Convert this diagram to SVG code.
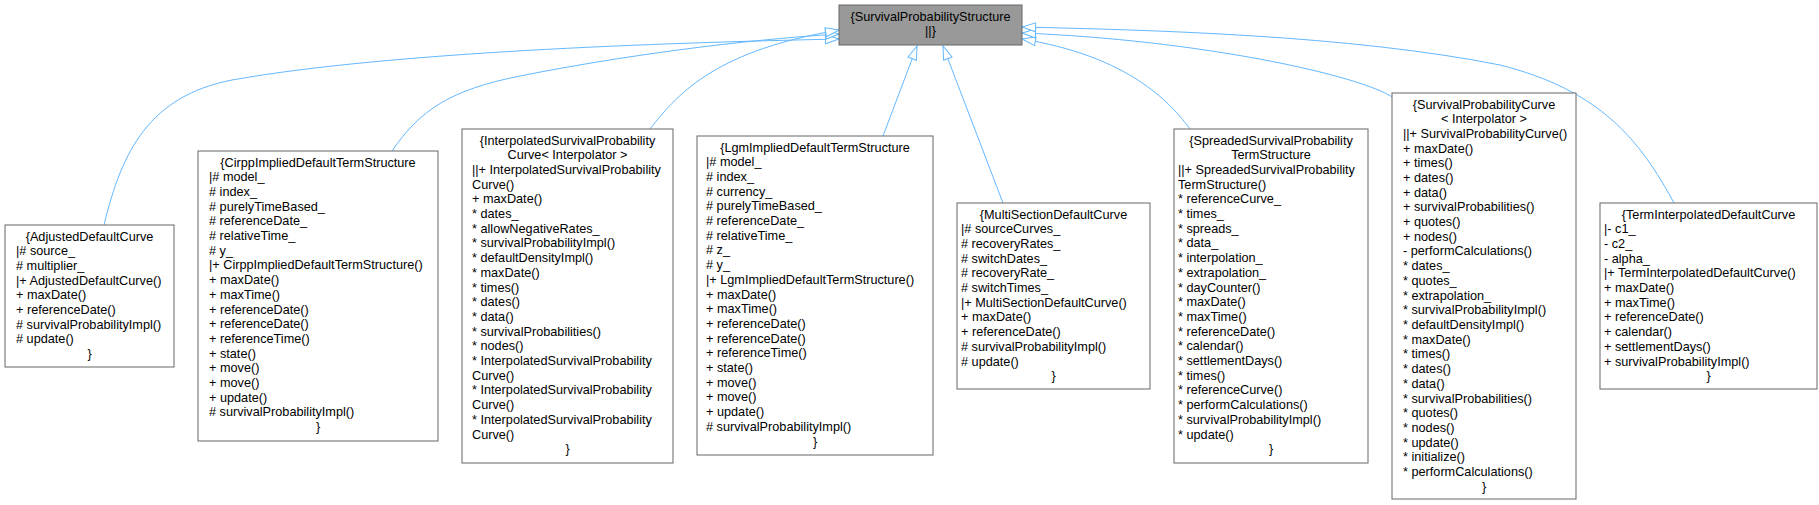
<svg xmlns="http://www.w3.org/2000/svg" width="1819" height="505" viewBox="0 0 1819 505">
<style>
text{font-family:"Liberation Sans",Arial,sans-serif;font-size:12.7px;fill:#000}
.c{text-anchor:middle}
.box{fill:#fff;stroke:#666;stroke-width:1}
.root{fill:#999;stroke:#666;stroke-width:1}
.e{fill:none;stroke:#63b8ff;stroke-width:1}
</style>
<defs>
<marker id="inh" viewBox="0 0 14 10" refX="14" refY="5" markerWidth="14" markerHeight="10" markerUnits="userSpaceOnUse" orient="auto" overflow="visible">
<path d="M0.5,0.5 L14,5 L0.5,9.5 Z" fill="#fff" stroke="#63b8ff" stroke-width="1"/>
</marker>
</defs>
<rect width="1819" height="505" fill="#fff"/>
<g id="connectors">
<path class="e" marker-end="url(#inh)" d="M104,225 C122,150 150,96 232,80 C400,50 700,42 839,39"/>
<path class="e" marker-end="url(#inh)" d="M392,151 C420,110 450,90 520,76 C620,56 740,40 839,34"/>
<path class="e" marker-end="url(#inh)" d="M650,129 C680,90 720,50 839,30"/>
<path class="e" marker-end="url(#inh)" d="M883,136 L917,46"/>
<path class="e" marker-end="url(#inh)" d="M1003,203 L943,46"/>
<path class="e" marker-end="url(#inh)" d="M1190,129 C1165,95 1120,55 1022,39"/>
<path class="e" marker-end="url(#inh)" d="M1394,98 C1360,75 1200,40 1022,33"/>
<path class="e" marker-end="url(#inh)" d="M1674,203 C1640,140 1600,90 1500,65 C1350,35 1150,30 1022,27"/>
</g>
<g id="SurvivalProbabilityStructure">
<rect class="root" x="839" y="5" width="183" height="40"/>
<text class="c" x="930.5" y="20.5">{SurvivalProbabilityStructure</text>
<text class="c" x="930.5" y="35.2">||}</text>
</g>
<g id="AdjustedDefaultCurve">
<rect class="box" x="5" y="225" width="169" height="142"/>
<text class="c" x="89.5" y="240.5">{AdjustedDefaultCurve</text>
<text x="16" y="240.5"><tspan x="16" dy="14.7">|# source_</tspan><tspan x="16" dy="14.7"># multiplier_</tspan><tspan x="16" dy="14.7">|+ AdjustedDefaultCurve()</tspan><tspan x="16" dy="14.7">+ maxDate()</tspan><tspan x="16" dy="14.7">+ referenceDate()</tspan><tspan x="16" dy="14.7"># survivalProbabilityImpl()</tspan><tspan x="16" dy="14.7"># update()</tspan></text>
<text class="c" x="89.5" y="358.1">}</text>
</g>
<g id="CirppImpliedDefaultTermStructure">
<rect class="box" x="198" y="151" width="240" height="290"/>
<text class="c" x="318" y="166.5">{CirppImpliedDefaultTermStructure</text>
<text x="209" y="166.5"><tspan x="209" dy="14.7">|# model_</tspan><tspan x="209" dy="14.7"># index_</tspan><tspan x="209" dy="14.7"># purelyTimeBased_</tspan><tspan x="209" dy="14.7"># referenceDate_</tspan><tspan x="209" dy="14.7"># relativeTime_</tspan><tspan x="209" dy="14.7"># y_</tspan><tspan x="209" dy="14.7">|+ CirppImpliedDefaultTermStructure()</tspan><tspan x="209" dy="14.7">+ maxDate()</tspan><tspan x="209" dy="14.7">+ maxTime()</tspan><tspan x="209" dy="14.7">+ referenceDate()</tspan><tspan x="209" dy="14.7">+ referenceDate()</tspan><tspan x="209" dy="14.7">+ referenceTime()</tspan><tspan x="209" dy="14.7">+ state()</tspan><tspan x="209" dy="14.7">+ move()</tspan><tspan x="209" dy="14.7">+ move()</tspan><tspan x="209" dy="14.7">+ update()</tspan><tspan x="209" dy="14.7"># survivalProbabilityImpl()</tspan></text>
<text class="c" x="318" y="431.1">}</text>
</g>
<g id="InterpolatedSurvivalProbabilityCurve">
<rect class="box" x="462" y="129" width="211" height="334"/>
<text class="c" x="567.5" y="144.5">{InterpolatedSurvivalProbability</text>
<text class="c" x="567.5" y="159.2">Curve&lt; Interpolator &gt;</text>
<text x="472" y="159.2"><tspan x="472" dy="14.7">||+ InterpolatedSurvivalProbability</tspan><tspan x="472" dy="14.7">Curve()</tspan><tspan x="472" dy="14.7">+ maxDate()</tspan><tspan x="472" dy="14.7">* dates_</tspan><tspan x="472" dy="14.7">* allowNegativeRates_</tspan><tspan x="472" dy="14.7">* survivalProbabilityImpl()</tspan><tspan x="472" dy="14.7">* defaultDensityImpl()</tspan><tspan x="472" dy="14.7">* maxDate()</tspan><tspan x="472" dy="14.7">* times()</tspan><tspan x="472" dy="14.7">* dates()</tspan><tspan x="472" dy="14.7">* data()</tspan><tspan x="472" dy="14.7">* survivalProbabilities()</tspan><tspan x="472" dy="14.7">* nodes()</tspan><tspan x="472" dy="14.7">* InterpolatedSurvivalProbability</tspan><tspan x="472" dy="14.7">Curve()</tspan><tspan x="472" dy="14.7">* InterpolatedSurvivalProbability</tspan><tspan x="472" dy="14.7">Curve()</tspan><tspan x="472" dy="14.7">* InterpolatedSurvivalProbability</tspan><tspan x="472" dy="14.7">Curve()</tspan></text>
<text class="c" x="567.5" y="453.2">}</text>
</g>
<g id="LgmImpliedDefaultTermStructure">
<rect class="box" x="697" y="136" width="236" height="319"/>
<text class="c" x="815" y="151.5">{LgmImpliedDefaultTermStructure</text>
<text x="706" y="151.5"><tspan x="706" dy="14.7">|# model_</tspan><tspan x="706" dy="14.7"># index_</tspan><tspan x="706" dy="14.7"># currency_</tspan><tspan x="706" dy="14.7"># purelyTimeBased_</tspan><tspan x="706" dy="14.7"># referenceDate_</tspan><tspan x="706" dy="14.7"># relativeTime_</tspan><tspan x="706" dy="14.7"># z_</tspan><tspan x="706" dy="14.7"># y_</tspan><tspan x="706" dy="14.7">|+ LgmImpliedDefaultTermStructure()</tspan><tspan x="706" dy="14.7">+ maxDate()</tspan><tspan x="706" dy="14.7">+ maxTime()</tspan><tspan x="706" dy="14.7">+ referenceDate()</tspan><tspan x="706" dy="14.7">+ referenceDate()</tspan><tspan x="706" dy="14.7">+ referenceTime()</tspan><tspan x="706" dy="14.7">+ state()</tspan><tspan x="706" dy="14.7">+ move()</tspan><tspan x="706" dy="14.7">+ move()</tspan><tspan x="706" dy="14.7">+ update()</tspan><tspan x="706" dy="14.7"># survivalProbabilityImpl()</tspan></text>
<text class="c" x="815" y="445.5">}</text>
</g>
<g id="MultiSectionDefaultCurve">
<rect class="box" x="957" y="203" width="193" height="186"/>
<text class="c" x="1053.5" y="218.5">{MultiSectionDefaultCurve</text>
<text x="961" y="218.5"><tspan x="961" dy="14.7">|# sourceCurves_</tspan><tspan x="961" dy="14.7"># recoveryRates_</tspan><tspan x="961" dy="14.7"># switchDates_</tspan><tspan x="961" dy="14.7"># recoveryRate_</tspan><tspan x="961" dy="14.7"># switchTimes_</tspan><tspan x="961" dy="14.7">|+ MultiSectionDefaultCurve()</tspan><tspan x="961" dy="14.7">+ maxDate()</tspan><tspan x="961" dy="14.7">+ referenceDate()</tspan><tspan x="961" dy="14.7"># survivalProbabilityImpl()</tspan><tspan x="961" dy="14.7"># update()</tspan></text>
<text class="c" x="1053.5" y="380.2">}</text>
</g>
<g id="SpreadedSurvivalProbabilityTermStructure">
<rect class="box" x="1174" y="129" width="194" height="334"/>
<text class="c" x="1271" y="144.5">{SpreadedSurvivalProbability</text>
<text class="c" x="1271" y="159.2">TermStructure</text>
<text x="1178" y="159.2"><tspan x="1178" dy="14.7">||+ SpreadedSurvivalProbability</tspan><tspan x="1178" dy="14.7">TermStructure()</tspan><tspan x="1178" dy="14.7">* referenceCurve_</tspan><tspan x="1178" dy="14.7">* times_</tspan><tspan x="1178" dy="14.7">* spreads_</tspan><tspan x="1178" dy="14.7">* data_</tspan><tspan x="1178" dy="14.7">* interpolation_</tspan><tspan x="1178" dy="14.7">* extrapolation_</tspan><tspan x="1178" dy="14.7">* dayCounter()</tspan><tspan x="1178" dy="14.7">* maxDate()</tspan><tspan x="1178" dy="14.7">* maxTime()</tspan><tspan x="1178" dy="14.7">* referenceDate()</tspan><tspan x="1178" dy="14.7">* calendar()</tspan><tspan x="1178" dy="14.7">* settlementDays()</tspan><tspan x="1178" dy="14.7">* times()</tspan><tspan x="1178" dy="14.7">* referenceCurve()</tspan><tspan x="1178" dy="14.7">* performCalculations()</tspan><tspan x="1178" dy="14.7">* survivalProbabilityImpl()</tspan><tspan x="1178" dy="14.7">* update()</tspan></text>
<text class="c" x="1271" y="453.2">}</text>
</g>
<g id="SurvivalProbabilityCurve">
<rect class="box" x="1392" y="93" width="184" height="406"/>
<text class="c" x="1484" y="108.5">{SurvivalProbabilityCurve</text>
<text class="c" x="1484" y="123.2">&lt; Interpolator &gt;</text>
<text x="1403" y="123.2"><tspan x="1403" dy="14.7">||+ SurvivalProbabilityCurve()</tspan><tspan x="1403" dy="14.7">+ maxDate()</tspan><tspan x="1403" dy="14.7">+ times()</tspan><tspan x="1403" dy="14.7">+ dates()</tspan><tspan x="1403" dy="14.7">+ data()</tspan><tspan x="1403" dy="14.7">+ survivalProbabilities()</tspan><tspan x="1403" dy="14.7">+ quotes()</tspan><tspan x="1403" dy="14.7">+ nodes()</tspan><tspan x="1403" dy="14.7">- performCalculations()</tspan><tspan x="1403" dy="14.7">* dates_</tspan><tspan x="1403" dy="14.7">* quotes_</tspan><tspan x="1403" dy="14.7">* extrapolation_</tspan><tspan x="1403" dy="14.7">* survivalProbabilityImpl()</tspan><tspan x="1403" dy="14.7">* defaultDensityImpl()</tspan><tspan x="1403" dy="14.7">* maxDate()</tspan><tspan x="1403" dy="14.7">* times()</tspan><tspan x="1403" dy="14.7">* dates()</tspan><tspan x="1403" dy="14.7">* data()</tspan><tspan x="1403" dy="14.7">* survivalProbabilities()</tspan><tspan x="1403" dy="14.7">* quotes()</tspan><tspan x="1403" dy="14.7">* nodes()</tspan><tspan x="1403" dy="14.7">* update()</tspan><tspan x="1403" dy="14.7">* initialize()</tspan><tspan x="1403" dy="14.7">* performCalculations()</tspan></text>
<text class="c" x="1484" y="490.7">}</text>
</g>
<g id="TermInterpolatedDefaultCurve">
<rect class="box" x="1600" y="203" width="217" height="186"/>
<text class="c" x="1708.5" y="218.5">{TermInterpolatedDefaultCurve</text>
<text x="1604" y="218.5"><tspan x="1604" dy="14.7">|- c1_</tspan><tspan x="1604" dy="14.7">- c2_</tspan><tspan x="1604" dy="14.7">- alpha_</tspan><tspan x="1604" dy="14.7">|+ TermInterpolatedDefaultCurve()</tspan><tspan x="1604" dy="14.7">+ maxDate()</tspan><tspan x="1604" dy="14.7">+ maxTime()</tspan><tspan x="1604" dy="14.7">+ referenceDate()</tspan><tspan x="1604" dy="14.7">+ calendar()</tspan><tspan x="1604" dy="14.7">+ settlementDays()</tspan><tspan x="1604" dy="14.7">+ survivalProbabilityImpl()</tspan></text>
<text class="c" x="1708.5" y="380.2">}</text>
</g>
</svg>
